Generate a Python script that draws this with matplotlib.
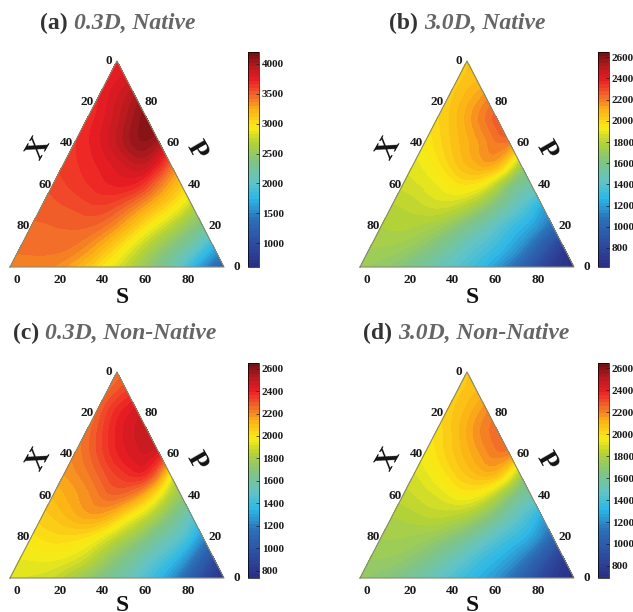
import numpy as np
import matplotlib
matplotlib.use("Agg")
import matplotlib.pyplot as plt
import matplotlib.tri as mtri
from matplotlib.colors import LinearSegmentedColormap

# composition grid, rows of P from 100 down to 0, S = 0, 10, ... 100-P
p_rows = [100, 90, 80, 70, 60, 50, 40, 30, 20, 10, 0]

native_03 = [
    [3750],
    [3730, 3830],
    [3700, 3850, 4020],
    [3680, 3800, 3980, 4130],
    [3650, 3750, 3900, 4060, 3950],
    [3620, 3680, 3760, 3860, 3850, 3480],
    [3560, 3620, 3680, 3730, 3680, 3400, 3120],
    [3510, 3540, 3580, 3590, 3470, 3250, 3020, 2720],
    [3470, 3480, 3490, 3470, 3320, 3080, 2830, 2570, 2300],
    [3430, 3440, 3440, 3360, 3170, 2920, 2650, 2400, 2130, 1750],
    [3400, 3400, 3360, 3240, 3050, 2820, 2580, 2320, 2000, 1550, 1200],
]
native_30 = [
    [2040],
    [2030, 2080],
    [2020, 2100, 2190],
    [1990, 2070, 2170, 2270],
    [1940, 2020, 2100, 2180, 2190],
    [1890, 1950, 2040, 2110, 2080, 1750],
    [1850, 1880, 1930, 1970, 1880, 1650, 1520],
    [1800, 1820, 1850, 1830, 1730, 1580, 1420, 1240],
    [1770, 1780, 1760, 1700, 1590, 1470, 1340, 1220, 1050],
    [1740, 1730, 1690, 1610, 1500, 1400, 1300, 1160, 950, 730],
    [1710, 1680, 1620, 1530, 1440, 1350, 1240, 1080, 900, 730, 640],
]
nonnative_03 = [
    [2250],
    [2260, 2340],
    [2260, 2380, 2450],
    [2240, 2350, 2440, 2490],
    [2210, 2290, 2390, 2450, 2400],
    [2170, 2220, 2300, 2360, 2330, 1980],
    [2110, 2160, 2220, 2260, 2170, 1950, 1730],
    [2060, 2100, 2150, 2130, 2000, 1850, 1680, 1490],
    [2000, 2030, 2030, 1980, 1860, 1740, 1600, 1470, 1250],
    [1950, 1960, 1950, 1890, 1770, 1650, 1520, 1400, 1200, 950],
    [1920, 1910, 1880, 1790, 1690, 1590, 1480, 1350, 1150, 930, 780],
]
nonnative_30 = [
    [2060],
    [2050, 2100],
    [2040, 2110, 2200],
    [2000, 2080, 2180, 2250],
    [1950, 2030, 2110, 2190, 2190],
    [1890, 1950, 2030, 2090, 2060, 1770],
    [1850, 1880, 1920, 1960, 1880, 1690, 1540],
    [1800, 1820, 1840, 1820, 1740, 1600, 1450, 1280],
    [1770, 1770, 1750, 1700, 1610, 1490, 1380, 1270, 1060],
    [1740, 1730, 1690, 1610, 1510, 1400, 1310, 1190, 1000, 800],
    [1710, 1680, 1620, 1530, 1440, 1350, 1260, 1130, 950, 800, 700],
]

panel_letters = ["(a)", "(b)", "(c)", "(d)"]
panel_names = ["0.3D, Native", "3.0D, Native", "0.3D, Non-Native", "3.0D, Non-Native"]
panel_data = [native_03, native_30, nonnative_03, nonnative_30]
cbar_ranges = [(600, 4200), (620, 2650), (735, 2650), (690, 2650)]
cbar_ticks = [
    [1000, 1500, 2000, 2500, 3000, 3500, 4000],
    [800, 1000, 1200, 1400, 1600, 1800, 2000, 2200, 2400, 2600],
    [800, 1000, 1200, 1400, 1600, 1800, 2000, 2200, 2400, 2600],
    [800, 1000, 1200, 1400, 1600, 1800, 2000, 2200, 2400, 2600],
]
comp_ticks = [0, 20, 40, 60, 80]

# pixel layout: left, base y, title x, title y, S label baseline below base
panel_px = [(10, 267, 40, 23, 36), (360, 267, 389, 23, 36), (10, 578, 13, 333, 33), (360, 578, 363, 333, 33)]
W, H = 633, 612
TRI_W, TRI_H = 214, 206

plt.rcParams["font.family"] = "Liberation Serif"
plt.rcParams["font.weight"] = "bold"

cmap = LinearSegmentedColormap.from_list("bar", [
    (0.00, "#2b2e83"), (0.10, "#2d4a9f"), (0.22, "#2c6fb7"), (0.32, "#2cb8e8"),
    (0.40, "#62c4c4"), (0.50, "#84c47c"), (0.58, "#b5d334"), (0.65, "#fbec15"),
    (0.73, "#fbb316"), (0.80, "#f2652a"), (0.87, "#ed1c24"), (0.94, "#b01a1e"),
    (1.00, "#6e1012")])

fig = plt.figure(figsize=(W / 100, H / 100), dpi=100)


def px_axes(x0, y_bottom, w, h):
    return fig.add_axes([x0 / W, 1 - y_bottom / H, w / W, h / H])


for i in range(4):
    x0, yb, tx, ty, s_drop = panel_px[i]
    lo, hi = cbar_ranges[i]

    s = []
    p = []
    z = []
    for pr, row in zip(p_rows, panel_data[i]):
        for k, v in enumerate(row):
            s.append(k * 10)
            p.append(pr)
            z.append(v)
    s = np.array(s, dtype=float)
    p = np.array(p, dtype=float)
    z = np.array(z, dtype=float)

    ax = px_axes(x0, yb, TRI_W, TRI_H)
    tri = mtri.Triangulation(s + p / 2, p)
    fine, zfine = mtri.UniformTriRefiner(tri).refine_field(z, subdiv=3)
    levels = np.linspace(lo, hi, 61)
    cf = ax.tricontourf(fine, np.clip(zfine, lo, hi), levels=levels, cmap=cmap)
    ax.plot([0, 100, 50, 0], [0, 0, 100, 0], color="#8a8a70", lw=0.8, clip_on=False)
    ax.set_xlim(0, 100)
    ax.set_ylim(0, 100)
    ax.axis("off")

    for t in comp_ticks:
        # bottom S, left X, right P
        ax.annotate(str(t), (t, 0), xytext=(7, -13), textcoords="offset pixels",
                    ha="center", va="center", fontsize=9.5, color="#1a1a1a", annotation_clip=False)
        ax.annotate(str(t), ((100 - t) / 2, 100 - t), xytext=(-8, 0), textcoords="offset pixels",
                    ha="center", va="center", fontsize=9.5, color="#1a1a1a", annotation_clip=False)
        ax.annotate(str(t), (100 - t / 2, t), xytext=(13, 0), textcoords="offset pixels",
                    ha="center", va="center", fontsize=9.5, color="#1a1a1a", annotation_clip=False)

    ax.annotate("S", (50, 0), xytext=(5, -s_drop), textcoords="offset pixels", ha="center", va="baseline",
                fontsize=17, color="#111111", annotation_clip=False)
    ax.annotate("X", (25, 50), xytext=(-25, 16), textcoords="offset pixels", ha="center", va="center",
                fontsize=21, rotation=60, color="#111111", annotation_clip=False)
    ax.annotate("P", (75, 50), xytext=(26, 14), textcoords="offset pixels", ha="center", va="center",
                fontsize=20, rotation=-60, color="#111111", annotation_clip=False)

    head = fig.text(tx / W, 1 - ty / H, panel_letters[i] + " ", fontsize=17, color="#333333",
                    ha="left", va="center")
    ax.annotate(panel_names[i], xy=(1, 0), xycoords=head, va="bottom", ha="left",
                fontsize=17, style="italic", color="#666666", annotation_clip=False)

    cax = px_axes(x0 + 238, yb, 11, 215)
    cb = fig.colorbar(cf, cax=cax, ticks=cbar_ticks[i], drawedges=False)
    cb.ax.set_ylim(lo, hi)
    cb.ax.tick_params(labelsize=8, length=2, width=0.5, pad=2, direction="in", colors="#1a1a1a")
    cb.outline.set_linewidth(0.5)

fig.savefig("out.png", dpi=100)
